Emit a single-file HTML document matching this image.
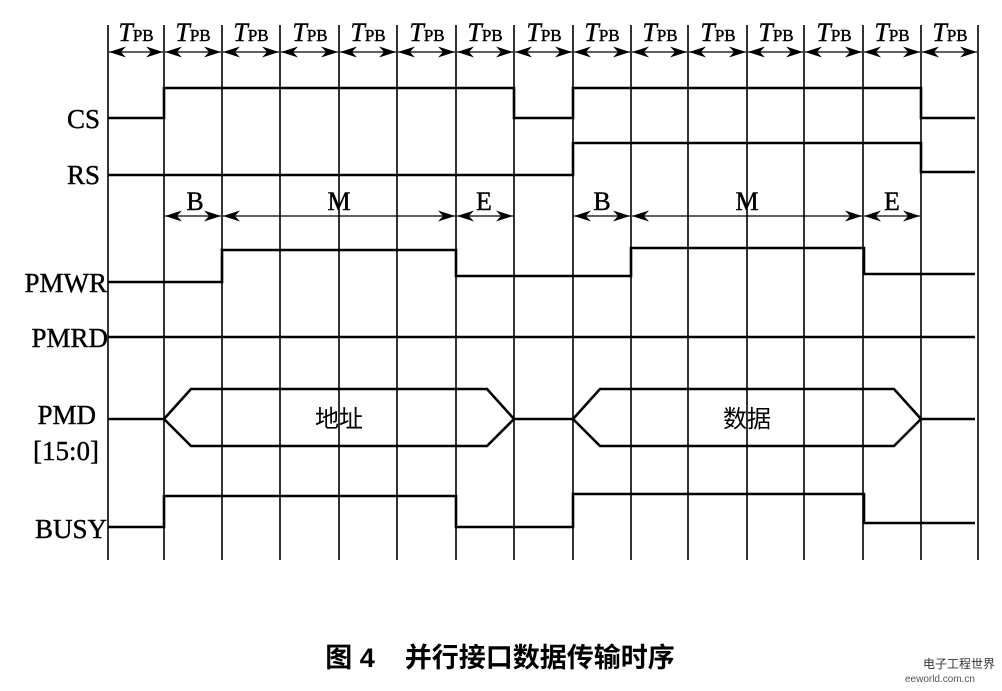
<!DOCTYPE html>
<html><head><meta charset="utf-8"><style>body{margin:0;background:#fff}svg{display:block}</style></head>
<body>
<svg width="1002" height="691" viewBox="0 0 1002 691" xmlns="http://www.w3.org/2000/svg">
<defs>
<marker id="a" viewBox="0 0 10 10" refX="10" refY="5" markerWidth="17" markerHeight="11" preserveAspectRatio="none" orient="auto-start-reverse" markerUnits="userSpaceOnUse"><path d="M0,0 L10,5 L0,10 L3,5z" fill="#000"/></marker>
</defs>
<g stroke="#000" stroke-width="1.6">
<line x1="108" y1="25" x2="108" y2="560"/><line x1="164" y1="25" x2="164" y2="560"/>
<line x1="222" y1="25" x2="222" y2="560"/><line x1="280" y1="25" x2="280" y2="560"/>
<line x1="339" y1="25" x2="339" y2="560"/><line x1="397" y1="25" x2="397" y2="560"/>
<line x1="456" y1="25" x2="456" y2="560"/><line x1="514" y1="25" x2="514" y2="560"/>
<line x1="573" y1="25" x2="573" y2="560"/><line x1="631" y1="25" x2="631" y2="560"/>
<line x1="688" y1="25" x2="688" y2="560"/><line x1="747" y1="25" x2="747" y2="560"/>
<line x1="804" y1="25" x2="804" y2="560"/><line x1="863" y1="25" x2="863" y2="560"/>
<line x1="921" y1="25" x2="921" y2="560"/><line x1="978" y1="25" x2="978" y2="560"/>
</g>
<g stroke="#000" stroke-width="1.2" marker-start="url(#a)" marker-end="url(#a)">
<line x1="109" y1="52" x2="163" y2="52"/><line x1="165" y1="52" x2="221" y2="52"/>
<line x1="223" y1="52" x2="279" y2="52"/><line x1="281" y1="52" x2="338" y2="52"/>
<line x1="340" y1="52" x2="396" y2="52"/><line x1="398" y1="52" x2="455" y2="52"/>
<line x1="457" y1="52" x2="513" y2="52"/><line x1="515" y1="52" x2="572" y2="52"/>
<line x1="574" y1="52" x2="630" y2="52"/><line x1="632" y1="52" x2="687" y2="52"/>
<line x1="689" y1="52" x2="746" y2="52"/><line x1="748" y1="52" x2="803" y2="52"/>
<line x1="805" y1="52" x2="862" y2="52"/><line x1="864" y1="52" x2="920" y2="52"/>
<line x1="922" y1="52" x2="977" y2="52"/>
<line x1="165" y1="216" x2="221" y2="216"/><line x1="223" y1="216" x2="455" y2="216"/>
<line x1="457" y1="216" x2="513" y2="216"/>
<line x1="574" y1="216" x2="630" y2="216"/><line x1="632" y1="216" x2="862" y2="216"/>
<line x1="864" y1="216" x2="920" y2="216"/>
</g>
<g font-family="Liberation Serif, serif" font-size="26" text-anchor="middle" stroke="#000" stroke-width="0.4">
<g>
<text x="136" y="41"><tspan font-style="italic">T</tspan><tspan font-size="17">PB</tspan></text>
<text x="193" y="41"><tspan font-style="italic">T</tspan><tspan font-size="17">PB</tspan></text>
<text x="251" y="41"><tspan font-style="italic">T</tspan><tspan font-size="17">PB</tspan></text>
<text x="310" y="41"><tspan font-style="italic">T</tspan><tspan font-size="17">PB</tspan></text>
<text x="368" y="41"><tspan font-style="italic">T</tspan><tspan font-size="17">PB</tspan></text>
<text x="427" y="41"><tspan font-style="italic">T</tspan><tspan font-size="17">PB</tspan></text>
<text x="485" y="41"><tspan font-style="italic">T</tspan><tspan font-size="17">PB</tspan></text>
<text x="544" y="41"><tspan font-style="italic">T</tspan><tspan font-size="17">PB</tspan></text>
<text x="602" y="41"><tspan font-style="italic">T</tspan><tspan font-size="17">PB</tspan></text>
<text x="660" y="41"><tspan font-style="italic">T</tspan><tspan font-size="17">PB</tspan></text>
<text x="718" y="41"><tspan font-style="italic">T</tspan><tspan font-size="17">PB</tspan></text>
<text x="776" y="41"><tspan font-style="italic">T</tspan><tspan font-size="17">PB</tspan></text>
<text x="834" y="41"><tspan font-style="italic">T</tspan><tspan font-size="17">PB</tspan></text>
<text x="892" y="41"><tspan font-style="italic">T</tspan><tspan font-size="17">PB</tspan></text>
<text x="950" y="41"><tspan font-style="italic">T</tspan><tspan font-size="17">PB</tspan></text>
</g>
<text x="195" y="210">B</text><text x="339" y="210">M</text><text x="484" y="210">E</text>
<text x="602" y="210">B</text><text x="747" y="210">M</text><text x="892" y="210">E</text>
</g>
<g font-family="Liberation Serif, serif" font-size="27" text-anchor="end" stroke="#000" stroke-width="0.4">
<text x="100" y="128">CS</text>
<text x="100" y="184">RS</text>
<text x="107" y="292">PMWR</text>
<text x="108" y="347">PMRD</text>
<text x="96" y="424">PMD</text>
<text x="99" y="460">[15:0]</text>
<text x="107" y="538">BUSY</text>
</g>
<g fill="none" stroke="#000" stroke-width="2.6">
<polyline points="108,118 164,118 164,88 514,88 514,118 573,118 573,88 921,88 921,118 975,118"/>
<polyline points="108,175 573,175 573,143 921,143 921,172 975,172"/>
<polyline points="108,282 222,282 222,250 456,250 456,276 631,276 631,248 864,248 864,274 975,274"/>
<line x1="108" y1="337" x2="975" y2="337"/>
<polyline points="108,419 164,419"/>
<polygon points="164,419 191,389 487,389 514,419 487,446 191,446"/>
<polyline points="514,419 573,419"/>
<polygon points="573,419 600,389 894,389 921,419 894,446 600,446"/>
<polyline points="921,419 975,419"/>
<polyline points="108,527 164,527 164,496 456,496 456,527 573,527 573,494 864,494 864,523 975,523"/>
</g>
<g font-family="Noto Sans CJK SC, sans-serif" font-size="24" text-anchor="middle">
<text x="339" y="427">地址</text>
<text x="747" y="427">数据</text>
</g>
<text x="500" y="667" text-anchor="middle" font-family="Liberation Sans, Noto Sans CJK SC, sans-serif" font-size="27" font-weight="bold" xml:space="preserve">图 4    并行接口数据传输时序</text>
<text x="995" y="668" text-anchor="end" font-family="Noto Sans CJK SC, sans-serif" font-size="12" fill="#333">电子工程世界</text>
<text x="975" y="682" text-anchor="end" font-family="Liberation Sans, sans-serif" font-size="10" fill="#555">eeworld.com.cn</text>
</svg>
</body></html>
